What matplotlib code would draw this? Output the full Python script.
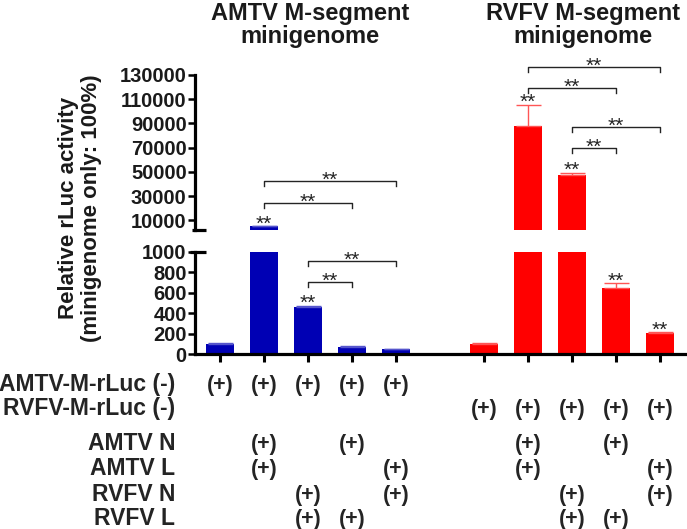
import numpy as np
import matplotlib
matplotlib.use('Agg')
import matplotlib.pyplot as plt
import matplotlib.transforms as mtrans

plt.rcParams['font.family'] = ['Liberation Sans', 'DejaVu Sans']
plt.rcParams['font.weight'] = 'bold'

# lanes: 5 AMTV (blue) + gap + 5 RVFV (red)
pos_amtv = [0, 1, 2, 3, 4]
pos_rvfv = [6, 7, 8, 9, 10]
amtv_vals = [100, 5000, 465, 72, 48]
amtv_err = [5, 300, 8, 4, 4]
rvfv_vals = [100, 87500, 47200, 647, 205]
rvfv_err = [10, 17800, 2100, 46, 8]

# bars with ** above them
amtv_sig = [1, 2]
rvfv_sig = [1, 2, 3, 4]

# brackets: (from lane, to lane, height)
brackets_top = [(1, 4, 42400), (1, 3, 24300),
                (7, 10, 136400), (7, 9, 119500), (8, 10, 86800), (8, 9, 69450)]
brackets_bot = [(2, 4, 915), (2, 3, 709)]

row_labels = ['AMTV-M-rLuc (-)', 'RVFV-M-rLuc (-)', 'AMTV N', 'AMTV L', 'RVFV N', 'RVFV L']
row_marks = [
    [1, 1, 1, 1, 1, 0, 0, 0, 0, 0],
    [0, 0, 0, 0, 0, 1, 1, 1, 1, 1],
    [0, 1, 0, 1, 0, 0, 1, 0, 1, 0],
    [0, 1, 0, 0, 1, 0, 1, 0, 0, 1],
    [0, 0, 1, 0, 1, 0, 0, 1, 0, 1],
    [0, 0, 1, 1, 0, 0, 0, 1, 1, 0],
]
row_base_px = [391, 415, 450, 475, 501, 525]

blue = '#0000b4'
red = '#ff0000'
ink = '#242424'

W, H = 687, 529
fig = plt.figure(figsize=(W / 100, H / 100), dpi=100)
left = 195 / W
ax_top = fig.add_axes([left, 1 - 230 / H, 1 - left, (230 - 75) / H])
ax_bot = fig.add_axes([left, 1 - 354 / H, 1 - left, (354 - 252) / H])

xlim = (-0.57, 10.61)
lanes = pos_amtv + pos_rvfv

for ax in (ax_top, ax_bot):
    ax.bar(pos_amtv, amtv_vals, width=0.64, color=blue, zorder=2)
    ax.bar(pos_rvfv, rvfv_vals, width=0.64, color=red, zorder=2)
    ax.errorbar(pos_amtv, amtv_vals, yerr=[np.zeros(5), amtv_err], fmt='none',
                ecolor='#5555cc', elinewidth=1, capsize=9, capthick=1, zorder=3)
    ax.errorbar(pos_rvfv, rvfv_vals, yerr=[np.zeros(5), rvfv_err], fmt='none',
                ecolor='#ff5555', elinewidth=1, capsize=9, capthick=1, zorder=3)
    ax.set_xlim(*xlim)
    ax.spines['top'].set_visible(False)
    ax.spines['right'].set_visible(False)
    ax.spines['left'].set_linewidth(2.3)
    ax.spines['bottom'].set_linewidth(2.3)
    ax.tick_params(axis='y', direction='out', length=5, width=1.8, pad=1, labelsize=14.5)
    ax.patch.set_alpha(0)

ax_top.set_ylim(2000, 130000)
ax_top.set_yticks(np.arange(10000, 130001, 20000))
ax_top.spines['bottom'].set_visible(False)
ax_top.set_xticks([])

ax_bot.set_ylim(0, 1000)
ax_bot.set_yticks(np.arange(0, 1001, 200))
ax_bot.set_xticks(lanes)
ax_bot.set_xticklabels([])
ax_bot.tick_params(axis='x', direction='out', length=6, width=2.2)

for lab in ax_top.get_yticklabels() + ax_bot.get_yticklabels():
    lab.set_fontweight('bold')
    lab.set_color('#1a1a1a')

# axis break marks
ax_top.plot([-0.007, 0.022], [0, 0], transform=ax_top.transAxes, color='black',
            lw=2.3, clip_on=False, solid_capstyle='butt')
ax_bot.plot([-0.01, 0.022], [1, 1], transform=ax_bot.transAxes, color='black',
            lw=2.3, clip_on=False, solid_capstyle='butt')

# significance stars over bars
for ax in (ax_top, ax_bot):
    lo, hi = ax.get_ylim()
    for i in amtv_sig:
        top = amtv_vals[i] + amtv_err[i]
        if lo < top <= hi:
            ax.annotate('**', xy=(pos_amtv[i], top), xytext=(0, 1.5), textcoords='offset points',
                        ha='center', va='center', fontsize=15, fontweight='normal',
                        color=ink, annotation_clip=False)
    for i in rvfv_sig:
        top = rvfv_vals[i] + rvfv_err[i]
        if lo < top <= hi:
            ax.annotate('**', xy=(pos_rvfv[i], top), xytext=(0, 1.5), textcoords='offset points',
                        ha='center', va='center', fontsize=15, fontweight='normal',
                        color=ink, annotation_clip=False)


def draw_bracket(ax, a, b, y, drop):
    ax.plot([a, a, b, b], [y - drop, y, y, y - drop], color=ink, lw=1, clip_on=False, zorder=4)
    ax.annotate('**', xy=((a + b) / 2, y), xytext=(0, 0.5), textcoords='offset points',
                ha='center', va='center', fontsize=15, fontweight='normal',
                color=ink, annotation_clip=False)


for a, b, y in brackets_top:
    draw_bracket(ax_top, a, b, y, 4200)
for a, b, y in brackets_bot:
    draw_bracket(ax_bot, a, b, y, 50)

# titles and y label
fig.text(310 / W, 1 - 25 / H, 'AMTV M-segment\nminigenome', ha='center', va='center',
         fontsize=17, fontweight='bold', color='#1a1a1a', linespacing=1.0)
fig.text(583 / W, 1 - 25 / H, 'RVFV M-segment\nminigenome', ha='center', va='center',
         fontsize=17, fontweight='bold', color='#1a1a1a', linespacing=1.0)
fig.text(80 / W, 1 - 208 / H, 'Relative rLuc activity\n(minigenome only: 100%)', rotation=90,
         ha='center', va='center', fontsize=16, fontweight='bold', color='#1a1a1a',
         multialignment='center', linespacing=1.1)

# condition table
tr = mtrans.blended_transform_factory(ax_bot.transData, fig.transFigure)
for label, marks, ypx in zip(row_labels, row_marks, row_base_px):
    yf = 1 - ypx / H
    fig.text(175 / W, yf, label, ha='right', va='baseline', fontsize=16.5,
             fontweight='bold', color=ink)
    for lane, m in zip(lanes, marks):
        if m:
            fig.text(lane, yf, '(+)', transform=tr, ha='center', va='baseline',
                     fontsize=15.5, fontweight='bold', color=ink)

fig.savefig('out.png', dpi=100)
